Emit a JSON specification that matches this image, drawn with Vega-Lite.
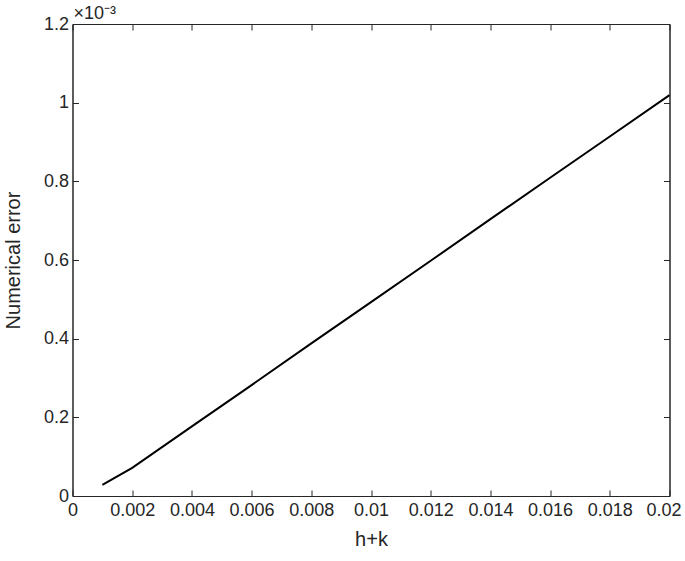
{
  "$schema": "https://vega.github.io/schema/vega-lite/v6.json",
  "autosize": "none",
  "width": 597,
  "height": 472,
  "padding": {"left": 72.5, "top": 24, "right": 16, "bottom": 65},
  "background": "white",
  "title": {
    "text": "×10⁻³",
    "anchor": "start",
    "frame": "group",
    "font": "Liberation Sans",
    "fontSize": 18,
    "fontWeight": "normal",
    "color": "#262626",
    "offset": 4,
    "dx": 1,
    "dy": 12
  },
  "config": {
    "view": {"stroke": "#262626", "strokeWidth": 1},
    "axis": {
      "grid": false,
      "domainColor": "#262626",
      "tickColor": "#262626",
      "labelColor": "#262626",
      "titleColor": "#262626",
      "labelFont": "Liberation Sans",
      "titleFont": "Liberation Sans",
      "labelFontSize": 18,
      "titleFontSize": 20,
      "titleFontWeight": "normal",
      "tickSize": -6,
      "tickWidth": 1,
      "domainWidth": 1
    }
  },
  "data": {
    "values": [
      {"hk": 0.001, "err": 0.0000285},
      {"hk": 0.002, "err": 0.0000715},
      {"hk": 0.004, "err": 0.000177},
      {"hk": 0.006, "err": 0.000282},
      {"hk": 0.008, "err": 0.000388},
      {"hk": 0.010, "err": 0.000493},
      {"hk": 0.012, "err": 0.000598},
      {"hk": 0.014, "err": 0.000704},
      {"hk": 0.016, "err": 0.000809},
      {"hk": 0.018, "err": 0.000914},
      {"hk": 0.020, "err": 0.001019}
    ]
  },
  "layer": [
    {
      "mark": {"type": "line", "color": "black", "strokeWidth": 2},
      "encoding": {
        "x": {
          "field": "hk", "type": "quantitative",
          "scale": {"domain": [0, 0.02], "nice": false, "zero": false},
          "axis": {
            "orient": "bottom", "title": "h+k",
            "values": [0, 0.002, 0.004, 0.006, 0.008, 0.01, 0.012, 0.014, 0.016, 0.018, 0.02],
            "labelExpr": "format(datum.value, '~g')",
            "labelOffset": {"condition": {"test": "datum.value >= 0.0199", "value": -6}, "value": 0},
            "labelPadding": 11, "titlePadding": 10,
            "labelFlush": false, "labelOverlap": false
          }
        },
        "y": {
          "field": "err", "type": "quantitative",
          "scale": {"domain": [0, 0.0012], "nice": false},
          "axis": {
            "orient": "left", "title": "Numerical error",
            "values": [0, 0.0002, 0.0004, 0.0006, 0.0008, 0.001, 0.0012],
            "labelExpr": "format(datum.value*1000, '.1~f')",
            "labelPadding": 10, "titlePadding": 20,
            "labelFlush": false, "labelOverlap": false
          }
        }
      }
    },
    {
      "mark": {"type": "line", "color": "black", "strokeWidth": 2, "opacity": 0},
      "encoding": {
        "x": {
          "field": "hk", "type": "quantitative",
          "scale": {"domain": [0, 0.02], "nice": false, "zero": false},
          "axis": {
            "orient": "top", "title": null, "labels": false,
            "values": [0, 0.002, 0.004, 0.006, 0.008, 0.01, 0.012, 0.014, 0.016, 0.018, 0.02]
          }
        },
        "y": {
          "field": "err", "type": "quantitative",
          "scale": {"domain": [0, 0.0012], "nice": false},
          "axis": {
            "orient": "right", "title": null, "labels": false,
            "values": [0, 0.0002, 0.0004, 0.0006, 0.0008, 0.001, 0.0012]
          }
        }
      }
    }
  ],
  "resolve": {"axis": {"x": "independent", "y": "independent"}}
}
